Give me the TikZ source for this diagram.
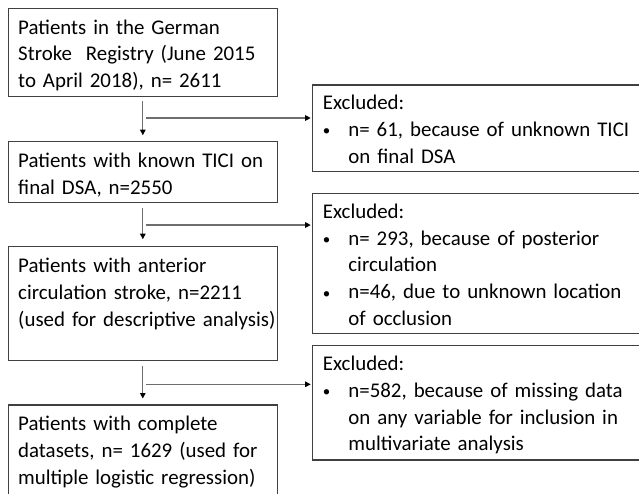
\documentclass[tikz,border=0pt]{standalone}
\usepackage{fontspec}
\setmainfont{Carlito}
\usetikzlibrary{arrows.meta,calc}
\definecolor{boxline}{RGB}{64,64,64}
\definecolor{flowline}{RGB}{110,110,110}
\tikzset{
  box/.style={draw=boxline, line width=1.1pt, anchor=north west, inner sep=0pt, outer sep=0pt},
  txt/.style={anchor=base west, inner sep=0pt, text width=340pt, font=\fontsize{20.9}{26.8}\selectfont},
  flow/.style={draw=flowline, line width=1.1pt, -{Triangle[length=5.5pt,width=5.5pt,color=black]}},
}
\newcommand{\bul}{\hangindent=25.5pt\hangafter=1\noindent\makebox[25.5pt][l]{\raisebox{0.6pt}{\fontsize{15}{15}\selectfont\textbullet}}}
\begin{document}
\begin{tikzpicture}[x=1pt,y=-1pt]
\useasboundingbox (0,0) rectangle (639,493);
\fill[white] (0,0) rectangle (639,493);
\clip (0,0) rectangle (639,493);

% left column boxes
\node[box, minimum width=269pt, minimum height=88.4pt] (b1) at (8.3,8.3) {};
\node[box, minimum width=269pt, minimum height=60.6pt] (b2) at (8.3,141.7) {};
\node[box, minimum width=269pt, minimum height=114pt] (b3) at (8.3,246.7) {};
\node[box, minimum width=269pt, minimum height=120pt] (b4) at (8.3,405) {};

% exclusion boxes
\node[box, minimum width=340pt, minimum height=86.7pt] (e1) at (312.7,85) {};
\node[box, minimum width=340pt, minimum height=139.8pt] (e2) at (312.7,193.5) {};
\node[box, minimum width=340pt, minimum height=114.3pt] (e3) at (312.7,345.7) {};

% texts
\node[txt] (t1) at ($(b1.north west)+(9.7,25.7)$) {\raggedright Patients in the German\newline Stroke\ \ Registry (June 2015\newline to April 2018), n= 2611};
\node[txt] (t2) at ($(b2.north west)+(9.7,25.7)$) {\raggedright Patients with known TICI on\newline final DSA, n=2550};
\node[txt] (t3) at ($(b3.north west)+(9.7,25.7)$) {\raggedright Patients with anterior\newline circulation stroke, n=2211\newline (used for descriptive analysis)};
\node[txt] (t4) at ($(b4.north west)+(9.7,25.7)$) {\raggedright Patients with complete\newline datasets, n= 1629 (used for\newline multiple logistic regression)};

\node[txt] (t5) at ($(e1.north west)+(10,24.7)$) {\raggedright Excluded:\par
\bul n= 61, because of unknown TICI\newline on final DSA\par};
\node[txt] (t6) at ($(e2.north west)+(10,24.7)$) {\raggedright Excluded:\par
\bul n= 293, because of posterior\newline circulation\par
\bul n=46, due to unknown location\newline of occlusion\par};
\node[txt] (t7) at ($(e3.north west)+(10,24.7)$) {\raggedright Excluded:\par
\bul n=582, because of missing data\newline on any variable for inclusion in\newline multivariate analysis\par};

% vertical flow arrows
\draw[flow] ([yshift=-4.4pt]b1.south) -- ([yshift=6.5pt]b2.north);
\draw[flow] ([yshift=-6pt]b2.south) -- ([yshift=7.5pt]b3.north);
\draw[flow] ([yshift=-5.3pt]b3.south) -- ([yshift=6.5pt]b4.north);

% horizontal exclusion arrows
\coordinate (h1) at (145.5,118);
\coordinate (h2) at (145.5,225);
\coordinate (h3) at (145.5,384.3);
\draw[flow, shorten >=2pt] (h1) -- (h1 -| e1.west);
\draw[flow, shorten >=2pt] (h2) -- (h2 -| e2.west);
\draw[flow, shorten >=2pt] (h3) -- (h3 -| e3.west);
\end{tikzpicture}
\end{document}
